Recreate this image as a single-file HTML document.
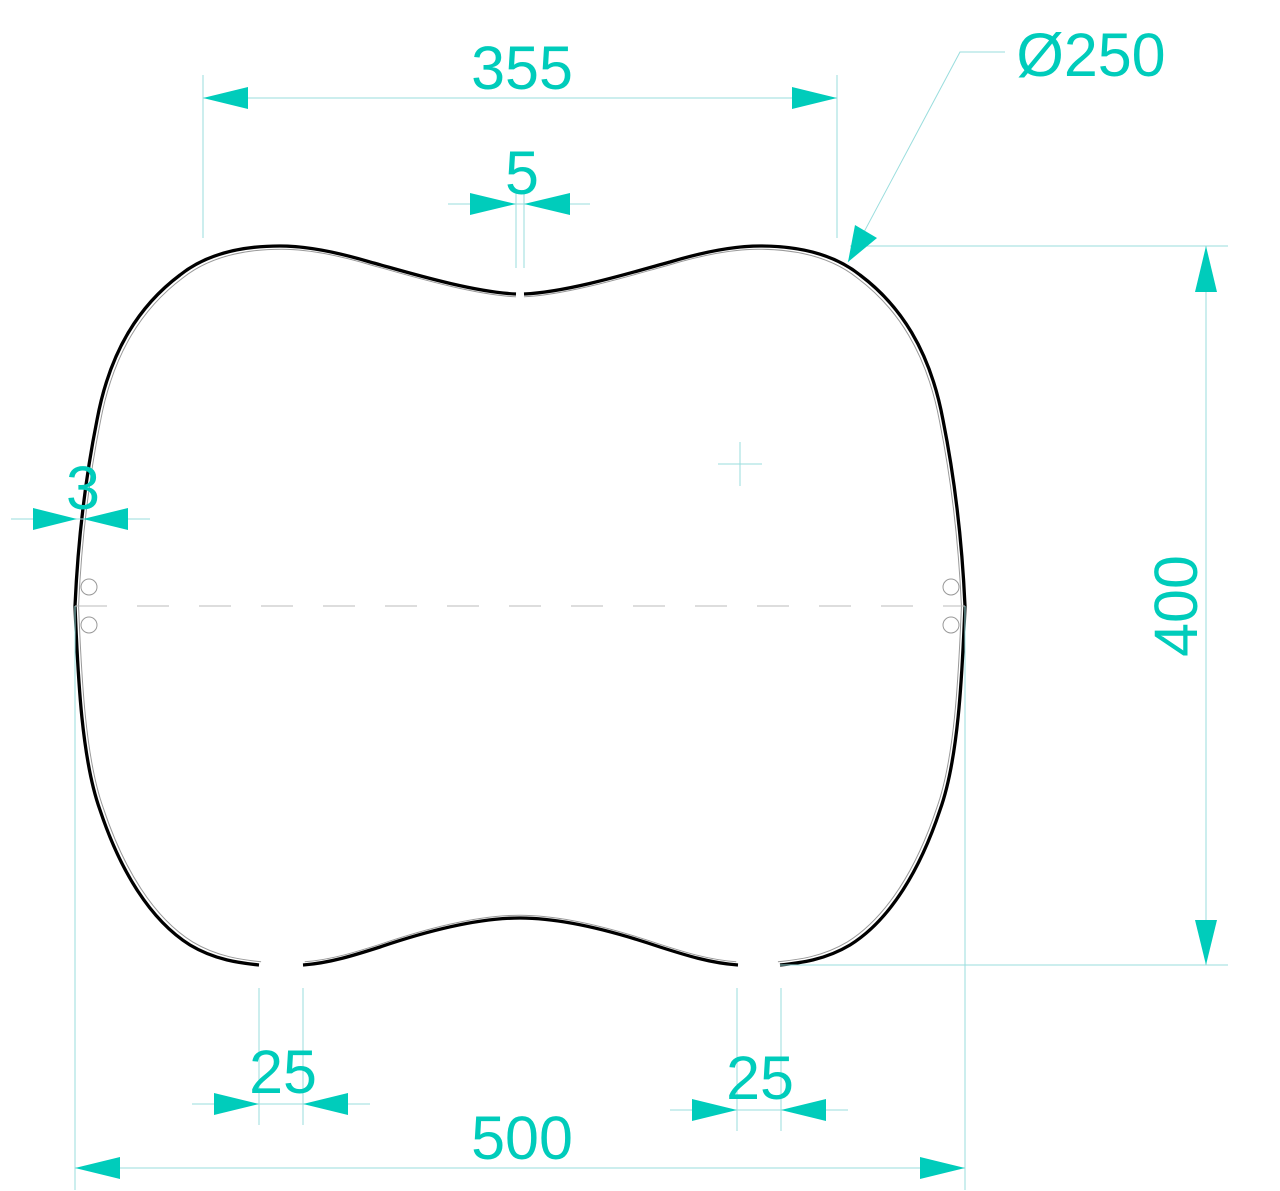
<!DOCTYPE html>
<html><head><meta charset="utf-8"><style>html,body{margin:0;padding:0;background:#fff}svg{display:block}</style></head>
<body>
<svg width="1280" height="1191" viewBox="0 0 1280 1191" xmlns="http://www.w3.org/2000/svg">
<defs>
<path id="shape" d="M516,294 C470,292 400,270 370,262 C330,250 300,246 280,246 C240,246 205,255 180,275 C140,305 110,350 97,420 C85,480 78,540 75,606 C78,680 82,760 100,810 C120,870 150,920 190,945 C215,960 240,963 259,965 M303,965 C330,963 355,955 380,947 C430,930 480,918 520,918 C560,918 610,930 660,947 C685,955 710,963 738,965 M780,965 C800,963 825,960 850,945 C890,920 920,870 940,810 C958,760 962,680 965,606 C962,540 955,480 943,420 C930,350 900,305 860,275 C835,255 800,246 760,246 C740,246 710,250 670,262 C640,270 570,292 524,294"/>
</defs>
<g fill="none">
<use href="#shape" stroke="#999" stroke-width="1" transform="translate(520,606) scale(0.992,0.991) translate(-520,-606)"/>
<use href="#shape" stroke="#000" stroke-width="3.3"/>
</g>
<line x1="75" y1="606" x2="965" y2="606" stroke="#bbb" stroke-width="1" stroke-dasharray="32,30"/>
<g fill="none" stroke="#999" stroke-width="1">
<circle cx="89" cy="587" r="8"/><circle cx="89" cy="625" r="8"/>
<circle cx="951" cy="587" r="8"/><circle cx="951" cy="625" r="8"/>
</g>
<g stroke="#9dd" stroke-width="1">
<line x1="718" y1="464" x2="762" y2="464"/><line x1="740" y1="442" x2="740" y2="486"/>
<line x1="203" y1="98" x2="837" y2="98"/><line x1="203" y1="75" x2="203" y2="238"/><line x1="837" y1="75" x2="837" y2="238"/>
<line x1="448" y1="204" x2="590" y2="204"/><line x1="516" y1="190" x2="516" y2="268"/><line x1="524" y1="190" x2="524" y2="268"/>
<polyline points="848,262 960,52 1005,52" fill="none"/>
<line x1="1206" y1="246" x2="1206" y2="965"/><line x1="850" y1="246" x2="1228" y2="246"/><line x1="780" y1="965" x2="1228" y2="965"/>
<line x1="75" y1="1168" x2="965" y2="1168"/><line x1="75" y1="606" x2="75" y2="1190"/><line x1="965" y1="606" x2="965" y2="1190"/>
<line x1="192" y1="1104" x2="370" y2="1104"/><line x1="259" y1="988" x2="259" y2="1125"/><line x1="303" y1="988" x2="303" y2="1125"/>
<line x1="670" y1="1110" x2="848" y2="1110"/><line x1="737" y1="988" x2="737" y2="1131"/><line x1="781" y1="988" x2="781" y2="1131"/>
<line x1="11" y1="519" x2="150" y2="519"/>
</g>
<g fill="#00ccbb">
<polygon points="203,98 248,87 248,109"/><polygon points="837,98 792,87 792,109"/>
<polygon points="516,204 470,193 470,215"/><polygon points="524,204 570,193 570,215"/>
<polygon points="848,262 855,225 877,238"/>
<polygon points="1206,246 1195,292 1217,292"/><polygon points="1206,965 1195,920 1217,920"/>
<polygon points="75,1168 120,1157 120,1179"/><polygon points="965,1168 920,1157 920,1179"/>
<polygon points="259,1104 214,1093 214,1115"/><polygon points="303,1104 348,1093 348,1115"/>
<polygon points="737,1110 692,1099 692,1121"/><polygon points="781,1110 826,1099 826,1121"/>
<polygon points="77,519 33,508 33,530"/><polygon points="83,519 128,508 128,530"/>
</g>
<g fill="#00ccbb" font-family="Liberation Sans, sans-serif" font-size="61" text-anchor="middle">
<text x="522" y="89">355</text>
<text x="522" y="194">5</text>
<text x="1091" y="76">Ø250</text>
<text x="1175" y="606" transform="rotate(-90 1175 606)" dy="22">400</text>
<text x="522" y="1159">500</text>
<text x="283" y="1093">25</text>
<text x="760" y="1099">25</text>
<text x="83" y="509">3</text>
</g>
</svg>
</body></html>
